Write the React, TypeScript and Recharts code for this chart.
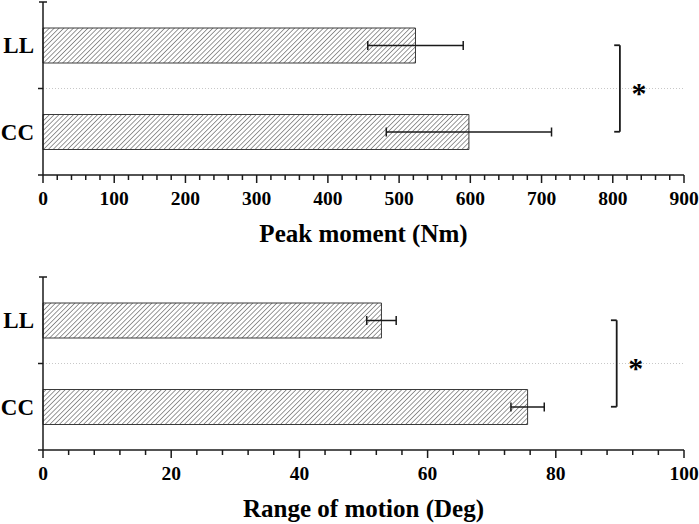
import { BarChart, Bar, XAxis, YAxis, CartesianGrid, ErrorBar, ReferenceLine } from 'recharts'

const categories = ['LL', 'CC']

const peakMoment = [523, 598]
const peakMomentSD = [67, 116]
const peakTicks = [0, 100, 200, 300, 400, 500, 600, 700, 800, 900]

const rangeOfMotion = [52.8, 75.6]
const rangeOfMotionSD = [2.3, 2.6]
const romTicks = [0, 20, 40, 60, 80, 100]

const FONT = 'Times New Roman, Liberation Serif, DejaVu Serif, serif'
const INK = '#1a1a1a'

function minorTicks(major: number[], parts: number) {
  const step = (major[1] - major[0]) / parts
  const out: number[] = []
  for (let v = major[0]; v <= major[major.length - 1] + 1e-9; v += step) out.push(Math.round(v * 1000) / 1000)
  return out
}

function CatTick({ x, y, payload, index }: any) {
  const off = payload?.offset ?? 0
  return (
    <g>
      {index === 0 && <line x1={x - 4} x2={x + 4} y1={y - off} y2={y - off} stroke={INK} strokeWidth={1.5} />}
      <line x1={x - 5} x2={x} y1={y + off} y2={y + off} stroke={INK} strokeWidth={1.5} />
      <text x={x - 9} y={y + 8} textAnchor="end" fontFamily={FONT} fontWeight="bold" fontSize={23} fill="#000">
        {payload.value}
      </text>
    </g>
  )
}

function makeValueTick(major: number[]) {
  return function ValueTick({ x, y, payload }: any) {
    const isMajor = major.includes(payload.value)
    return (
      <g>
        <line x1={x} x2={x} y1={y} y2={y + (isMajor ? 8 : 5)} stroke={INK} strokeWidth={1.5} />
        {isMajor && (
          <text x={x} y={y + 30} textAnchor="middle" fontFamily={FONT} fontWeight="bold" fontSize={19.5} fill="#000">
            {payload.value}
          </text>
        )}
      </g>
    )
  }
}

function Star({ viewBox }: any) {
  const vb = viewBox || {}
  const cx = (vb.x ?? 0) + (vb.width ?? 0) + 19
  const cy = (vb.y ?? 0) + (vb.height ?? 0) / 2
  return (
    <text x={cx} y={cy + 14} textAnchor="middle" fontFamily={FONT} fontWeight="bold" fontSize={30} fill="#000">
      *
    </text>
  )
}

interface PanelProps {
  id: string
  values: number[]
  sd: number[]
  major: number[]
  parts: number
  title: string
  bracketX: number
  capX: number
  top: number
  axisHeight: number
}

function Panel({ id, values, sd, major, parts, title, bracketX, capX, top, axisHeight }: PanelProps) {
  const data = categories.map((name, i) => ({ name, value: values[i], sd: sd[i] }))
  const ValueTick = makeValueTick(major)
  return (
    <BarChart
      width={699}
      height={262}
      data={data}
      layout="vertical"
      margin={{ top, right: 15, bottom: 0, left: 0 }}
      barSize={35}
    >
      <defs>
        <pattern id={id} patternUnits="userSpaceOnUse" width={3.4} height={3.4} patternTransform="rotate(45)">
          <rect width={3.4} height={3.4} fill="#fff" />
          <line x1={0} y1={0} x2={0} y2={3.4} stroke="#444" strokeWidth={1.1} />
        </pattern>
      </defs>
      <CartesianGrid
        vertical={false}
        stroke="#c8c8c8"
        strokeDasharray="1 2"
        horizontalCoordinatesGenerator={({ offset }: any) => [offset.top + offset.height / 2]}
      />
      <XAxis
        type="number"
        domain={[major[0], major[major.length - 1]]}
        ticks={minorTicks(major, parts)}
        interval={0}
        height={axisHeight}
        tickSize={0}
        tickMargin={0}
        tick={<ValueTick />}
        axisLine={{ stroke: INK, strokeWidth: 1.5 }}
        label={{
          value: title,
          position: 'insideTop',
          offset: 49,
          fontFamily: FONT,
          fontWeight: 'bold',
          fontSize: 25,
          fill: '#000',
        }}
      />
      <YAxis
        type="category"
        dataKey="name"
        width={43}
        tickSize={0}
        tickMargin={0}
        tick={<CatTick />}
        axisLine={{ stroke: INK, strokeWidth: 1.5 }}
      />
      <Bar dataKey="value" fill={`url(#${id})`} stroke="#3a3a3a" strokeWidth={1} isAnimationActive={false}>
        <ErrorBar dataKey="sd" direction="x" width={4.5} stroke={INK} strokeWidth={1.5} />
      </Bar>
      <ReferenceLine
        segment={[
          { x: bracketX, y: 'LL' },
          { x: bracketX, y: 'CC' },
        ]}
        stroke={INK}
        strokeWidth={1.8}
        label={<Star />}
      />
      <ReferenceLine
        segment={[
          { x: capX, y: 'LL' },
          { x: bracketX, y: 'LL' },
        ]}
        stroke={INK}
        strokeWidth={1.8}
      />
      <ReferenceLine
        segment={[
          { x: capX, y: 'CC' },
          { x: bracketX, y: 'CC' },
        ]}
        stroke={INK}
        strokeWidth={1.8}
      />
    </BarChart>
  )
}

export default function App() {
  return (
    <div style={{ position: 'absolute', left: 0, top: 0, width: 699, height: 524, background: '#fff' }}>
      <Panel
        id="hatchTop"
        values={peakMoment}
        sd={peakMomentSD}
        major={peakTicks}
        parts={5}
        title="Peak moment (Nm)"
        bracketX={810}
        capX={802}
        top={2}
        axisHeight={87}
      />
      <Panel
        id="hatchBottom"
        values={rangeOfMotion}
        sd={rangeOfMotionSD}
        major={romTicks}
        parts={5}
        title="Range of motion (Deg)"
        bracketX={89.5}
        capX={88.6}
        top={15}
        axisHeight={74}
      />
    </div>
  )
}
